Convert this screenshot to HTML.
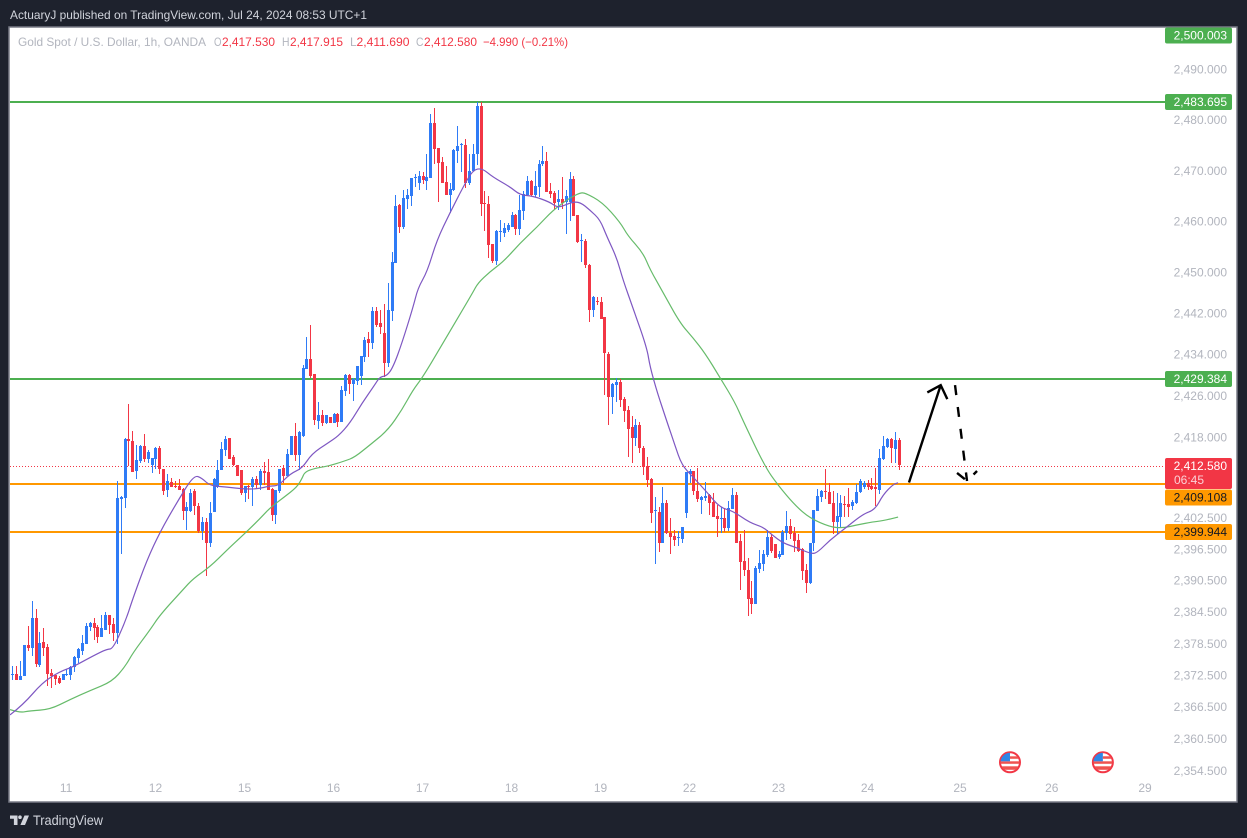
<!DOCTYPE html>
<html lang="en">
<head>
<meta charset="utf-8">
<title>Gold Spot / U.S. Dollar, 1h, OANDA</title>
<style>
html,body{margin:0;padding:0;background:#1e222d;width:1247px;height:838px;overflow:hidden}
svg{display:block}
text{font-family:"Liberation Sans",sans-serif;font-size:12px}
.tick{fill:#b2b5be;text-anchor:end}
.day{fill:#b2b5be;text-anchor:middle}
</style>
</head>
<body>
<svg id="chart" width="1247" height="838" viewBox="0 0 1247 838" xmlns="http://www.w3.org/2000/svg">
  <defs>
    <clipPath id="plot-clip"><rect x="10" y="28" width="1226" height="774"/></clipPath>
    <clipPath id="flag-clip"><circle cx="0" cy="0" r="9.5"/></clipPath>
  </defs>
  <text x="10" y="19" fill="#d1d4dc" textLength="357" lengthAdjust="spacingAndGlyphs">ActuaryJ published on TradingView.com, Jul 24, 2024 08:53 UTC+1</text>
  <rect x="9" y="27" width="1228" height="775" fill="#ffffff" stroke="#787b86" stroke-width="1.5"/>

  <g id="level-lines" clip-path="url(#plot-clip)"></g>
  <g id="candles" shape-rendering="crispEdges"></g>
  <g id="averages" clip-path="url(#plot-clip)"></g>
  <g id="arrows"></g>

  <g>
    <text x="18" y="46" fill="#b2b5be" textLength="188" lengthAdjust="spacingAndGlyphs">Gold Spot / U.S. Dollar, 1h, OANDA</text>
    <text x="214" y="46" fill="#b2b5be" textLength="7.5" lengthAdjust="spacingAndGlyphs">O</text>
    <text x="222" y="46" fill="#f23645" textLength="53" lengthAdjust="spacingAndGlyphs">2,417.530</text>
    <text x="282" y="46" fill="#b2b5be" textLength="7.5" lengthAdjust="spacingAndGlyphs">H</text>
    <text x="290" y="46" fill="#f23645" textLength="53" lengthAdjust="spacingAndGlyphs">2,417.915</text>
    <text x="350" y="46" fill="#b2b5be">L</text>
    <text x="356.5" y="46" fill="#f23645" textLength="53" lengthAdjust="spacingAndGlyphs">2,411.690</text>
    <text x="416" y="46" fill="#b2b5be" textLength="7.5" lengthAdjust="spacingAndGlyphs">C</text>
    <text x="424" y="46" fill="#f23645" textLength="53" lengthAdjust="spacingAndGlyphs">2,412.580</text>
    <text x="483" y="46" fill="#f23645" textLength="85" lengthAdjust="spacingAndGlyphs">−4.990 (−0.21%)</text>
  </g>

  <g id="price-axis"></g>
  <g id="price-tags"></g>
  <g id="time-axis"></g>
  <g id="events"></g>

  <g>
    <path d="M10 815.5h7.5v9.5h-3.6v-6.2H10z" fill="#d1d4dc"/>
    <circle cx="20" cy="817.2" r="1.8" fill="#d1d4dc"/>
    <path d="M24.5 815.5h4.5l-4 9.5h-4.6z" fill="#d1d4dc"/>
    <text x="33" y="825" fill="#d1d4dc" style="font-size:14px" textLength="70" lengthAdjust="spacingAndGlyphs">TradingView</text>
  </g>
</svg>

<script>
// ---- candle values (one entry per hourly bar)
const opens = [
2372.6,2372.7,2371.6,2372.2,2378.2,2377.5,2383.2,2374.4,2378.8,2377.7,
2372.9,2372.5,2371.8,2371.6,2372.6,2372.5,2373.9,2375.6,2377.1,2378.4,
2381.6,2382.4,2381.6,2379.7,2381.1,2383.9,2382.2,2380.5,2406.0,2406.3,
2417.7,2417.3,2411.5,2413.5,2416.3,2413.8,2412.7,2413.8,2416.0,2411.9,
2407.9,2409.4,2408.6,2408.6,2408.1,2403.8,2403.8,2407.7,2404.8,2400.0,
2401.7,2397.7,2403.5,2408.3,2411.6,2415.6,2417.9,2414.2,2412.7,2411.7,
2407.3,2408.6,2408.3,2410.0,2408.8,2411.5,2411.3,2408.1,2403.1,2407.7,
2412.1,2410.6,2414.6,2418.3,2414.6,2418.2,2431.2,2433.2,2430.2,2421.1,
2422.3,2420.7,2421.9,2420.8,2422.5,2420.9,2426.9,2430.0,2428.3,2428.9,
2429.9,2433.6,2437.1,2436.3,2442.5,2440.2,2438.2,2432.4,2442.6,2451.9,
2463.3,2459.0,2464.5,2465.1,2468.6,2467.6,2469.0,2468.0,2468.6,2479.5,
2474.6,2471.8,2467.8,2465.3,2466.3,2474.0,2475.1,2475.2,2467.6,2470.0,
2473.4,2482.9,2463.7,2463.5,2455.7,2452.3,2458.1,2457.8,2458.4,2459.0,
2461.4,2458.6,2462.1,2465.3,2468.0,2465.3,2466.9,2471.4,2472.0,2466.1,
2465.7,2463.9,2464.5,2463.9,2463.9,2468.5,2461.4,2456.2,2456.3,2451.5,
2442.7,2444.5,2444.3,2441.4,2434.1,2425.8,2428.1,2428.7,2425.4,2423.3,
2420.0,2417.9,2420.4,2415.9,2412.4,2409.9,2403.7,2403.6,2397.6,2405.3,
2399.6,2399.0,2398.5,2398.4,2403.4,2410.9,2411.5,2407.6,2405.9,2406.3,
2406.9,2405.5,2402.8,2402.3,2402.4,2400.5,2404.1,2406.9,2398.0,2394.2,
2392.5,2387.1,2386.0,2392.7,2393.6,2395.3,2398.8,2397.4,2395.0,2395.3,
2399.6,2400.9,2399.6,2398.2,2396.5,2392.5,2390.0,2397.6,2403.8,2406.5,
2407.6,2407.4,2405.3,2401.7,2402.6,2405.2,2405.1,2404.7,2405.3,2407.4,
2408.4,2409.1,2408.6,2408.3,2407.8,2413.8,2416.1,2417.7,2415.7,2417.53];
const highs = [
2374.1,2374.1,2375.2,2378.2,2381.7,2386.6,2385.0,2380.6,2381.3,2378.4,
2373.5,2372.5,2372.2,2372.7,2373.5,2374.2,2376.1,2377.6,2380.1,2382.3,
2382.6,2383.2,2382.0,2383.9,2384.4,2383.9,2383.3,2409.6,2406.6,2417.8,
2424.4,2419.2,2416.5,2416.5,2418.7,2415.6,2414.0,2416.2,2416.3,2411.9,
2410.9,2410.1,2409.6,2410.0,2408.2,2405.6,2408.1,2408.1,2405.3,2402.6,
2402.4,2405.6,2410.1,2413.6,2417.0,2418.3,2417.9,2414.6,2412.7,2411.7,
2408.6,2408.8,2410.3,2410.6,2411.9,2413.3,2413.8,2408.2,2407.9,2411.9,
2412.7,2415.7,2418.3,2420.7,2419.2,2432.0,2437.4,2439.8,2430.2,2424.8,
2423.2,2422.3,2422.0,2422.7,2422.7,2427.9,2430.2,2430.2,2429.5,2431.8,
2433.7,2437.4,2438.4,2443.4,2443.4,2442.7,2443.9,2448.0,2454.0,2465.3,
2463.5,2466.3,2466.5,2468.6,2469.5,2470.0,2469.8,2473.4,2481.3,2482.5,
2474.6,2472.8,2471.0,2467.6,2474.4,2478.9,2475.6,2476.4,2473.4,2475.4,
2483.6,2483.7,2466.1,2465.1,2455.7,2458.4,2460.4,2459.8,2459.8,2462.0,
2461.6,2465.3,2466.1,2469.0,2468.2,2470.0,2472.2,2475.0,2473.8,2467.6,
2466.1,2466.3,2468.8,2466.3,2469.8,2469.0,2461.4,2457.6,2456.7,2451.7,
2445.4,2445.3,2445.3,2441.4,2434.5,2428.5,2429.5,2429.3,2425.8,2424.0,
2422.1,2421.5,2421.0,2416.3,2414.2,2410.1,2406.5,2404.6,2408.4,2405.9,
2402.4,2400.1,2400.0,2400.7,2411.3,2411.9,2411.5,2412.0,2406.6,2409.3,
2407.1,2407.3,2404.9,2404.6,2404.3,2405.7,2408.2,2407.5,2399.4,2400.1,
2394.8,2390.4,2393.2,2396.3,2396.3,2400.1,2399.4,2397.4,2396.1,2400.1,
2403.8,2402.2,2400.7,2399.4,2396.7,2393.6,2397.6,2403.9,2408.0,2407.8,
2411.9,2409.1,2407.6,2407.3,2406.9,2406.7,2408.2,2405.9,2408.9,2409.9,
2409.5,2409.7,2410.1,2412.0,2415.7,2418.2,2417.9,2417.9,2419.0,2417.915];
const lows = [
2371.5,2371.5,2371.6,2372.2,2377.1,2376.1,2373.9,2374.0,2376.0,2370.3,
2370.0,2370.6,2370.8,2371.5,2372.2,2371.5,2373.0,2374.7,2376.3,2378.4,
2380.9,2379.2,2378.5,2379.7,2381.1,2380.3,2379.0,2378.4,2395.5,2404.3,
2412.4,2411.3,2410.0,2413.0,2413.3,2413.0,2411.1,2411.8,2410.9,2406.9,
2406.5,2408.4,2408.2,2407.9,2402.1,2400.2,2403.5,2403.1,2399.6,2398.2,
2391.3,2396.8,2403.5,2408.2,2411.6,2414.4,2413.8,2412.4,2410.6,2406.9,
2405.6,2406.1,2404.8,2408.2,2407.9,2408.8,2407.9,2401.9,2401.3,2407.2,
2409.1,2410.6,2414.6,2413.5,2411.7,2418.0,2431.2,2429.5,2420.3,2419.5,
2420.1,2420.5,2420.7,2420.7,2420.0,2420.9,2426.0,2426.3,2425.0,2428.1,
2428.1,2432.6,2433.6,2435.2,2439.5,2438.1,2429.7,2431.6,2440.6,2451.9,
2457.8,2458.6,2462.5,2463.1,2466.9,2466.3,2467.4,2466.3,2468.6,2471.5,
2463.9,2467.6,2465.3,2461.8,2466.1,2471.6,2469.8,2466.7,2467.2,2470.0,
2471.2,2461.1,2458.2,2452.9,2451.9,2451.5,2456.1,2457.0,2458.0,2459.0,
2457.4,2457.4,2460.4,2465.1,2465.0,2464.9,2464.9,2471.0,2465.9,2464.7,
2462.5,2462.3,2462.5,2457.6,2460.2,2461.1,2455.9,2452.1,2450.9,2440.4,
2441.4,2443.7,2441.0,2426.2,2420.4,2422.5,2424.8,2423.9,2421.0,2414.2,
2413.0,2416.3,2415.0,2410.7,2408.4,2401.5,2393.6,2395.9,2397.6,2399.4,
2395.5,2397.1,2397.1,2397.6,2402.4,2409.1,2406.9,2405.5,2403.2,2405.7,
2403.0,2402.6,2398.8,2399.6,2399.8,2400.0,2404.1,2397.6,2388.7,2391.3,
2383.7,2384.1,2386.0,2391.9,2392.3,2395.0,2395.7,2394.8,2394.6,2395.3,
2398.2,2398.4,2395.9,2395.9,2390.6,2388.1,2389.8,2396.1,2403.8,2405.5,
2406.1,2405.1,2399.4,2399.4,2400.7,2402.6,2402.6,2403.9,2405.1,2407.3,
2408.0,2407.8,2407.8,2404.7,2407.1,2413.6,2416.0,2413.0,2413.0,2411.69];
const closes = [
2372.7,2371.6,2372.3,2378.2,2377.5,2383.2,2374.6,2378.6,2377.5,2372.7,
2372.2,2371.7,2371.0,2372.7,2372.7,2374.0,2375.8,2377.3,2378.6,2381.8,
2382.4,2381.4,2379.6,2381.3,2383.9,2382.0,2380.5,2406.3,2406.5,2417.7,
2417.2,2411.3,2413.6,2416.3,2413.8,2415.2,2414.0,2416.0,2411.8,2407.7,
2409.6,2408.4,2408.4,2407.9,2403.8,2404.6,2407.3,2404.8,2400.0,2401.7,
2397.7,2403.4,2410.0,2411.7,2415.8,2417.7,2413.8,2412.7,2410.6,2407.3,
2408.6,2408.3,2410.0,2408.8,2411.5,2411.1,2407.9,2403.1,2407.8,2411.9,
2410.6,2414.8,2418.3,2414.6,2419.0,2431.4,2433.2,2429.9,2421.3,2422.3,
2420.7,2422.3,2420.8,2422.5,2420.9,2427.1,2430.0,2428.3,2429.3,2431.8,
2433.7,2436.9,2436.3,2442.5,2439.8,2439.4,2432.4,2442.7,2452.1,2463.1,
2459.0,2464.7,2465.3,2468.6,2468.8,2469.0,2468.2,2468.8,2479.5,2474.4,
2471.6,2467.6,2465.3,2466.5,2474.2,2475.0,2475.3,2467.6,2470.0,2473.4,
2482.9,2463.5,2463.5,2455.5,2452.3,2458.2,2458.3,2458.8,2459.4,2461.4,
2458.6,2462.3,2465.5,2468.0,2465.3,2467.1,2471.4,2472.0,2465.9,2465.5,
2463.7,2464.5,2463.7,2465.1,2468.5,2461.1,2456.1,2456.4,2451.5,2442.7,
2445.3,2444.3,2441.0,2434.3,2425.8,2428.3,2428.7,2425.2,2423.1,2419.6,
2417.9,2420.4,2415.9,2412.2,2409.7,2403.4,2403.9,2397.6,2405.3,2399.6,
2398.8,2398.2,2398.7,2400.7,2411.3,2411.5,2407.6,2406.1,2406.5,2406.7,
2405.3,2402.6,2402.2,2402.5,2400.5,2404.3,2406.9,2397.6,2394.0,2392.5,
2386.9,2386.0,2392.9,2393.8,2395.5,2398.8,2396.1,2394.8,2395.5,2399.8,
2400.9,2399.4,2398.0,2396.1,2392.3,2390.0,2397.6,2403.9,2406.7,2407.6,
2407.4,2405.1,2401.7,2402.8,2405.3,2405.0,2404.5,2405.5,2407.4,2409.5,
2409.1,2408.3,2408.0,2408.1,2414.0,2416.3,2417.7,2415.9,2417.5,2412.58];

// ---- fast moving average: bar position and value at each reading
const fastBars = [-0.6,2.8,7.7,12.3,15.7,20.9,24.5,26,29.1,31.2,34.8,38.2,42.6,46.9,49,51.1,55.5,59.6,63.2,66.6,68.7,71.7,74.9,77.4,81.6,84.2,87.3,90.4,93.7,95,96.8,98.4,100.7,103.5,104.8,107.2,109.7,113.1,116.5,119,121.4,124.2,128.6,131.2,134.5,138.9,140.7,142.3,144.6,146.7,149.3,151.9,153.7,156.2,157.8,160.4,164,164.8,166.6,169.2,171.2,173,175.9,179.5,182.9,186.2,190.6,194,196.3,199.2,202.8,206.6,208.2,211.3,214.6,219.8,222.9,225,227.6,228.9];
const fastValues = [2364.9,2366.8,2371,2373.1,2374,2376.1,2377.4,2377.4,2382.4,2387.1,2394.4,2399.8,2405.5,2410.7,2410.1,2408.6,2408.4,2408,2408,2408.6,2408.6,2410.9,2412,2414.8,2416.9,2418.2,2420.8,2424.6,2428.2,2429.7,2429.9,2431.6,2436.3,2443.1,2447,2450.2,2456.4,2461.8,2466.9,2470.2,2470.6,2468.8,2466.9,2465.3,2465.1,2463.9,2462.9,2463.1,2463.9,2463.9,2462.3,2460.4,2457,2452.9,2448.6,2443.1,2435.3,2431.6,2426.8,2420.9,2416.5,2412.6,2410.3,2407.4,2404.4,2403.8,2401.5,2400.7,2399.2,2397.6,2396.7,2395.5,2395.9,2398.2,2400.1,2403.2,2404,2406.9,2408.9,2409.2];

// ---- slow moving average: bar position and value at each reading
const slowBars = [-0.6,2,4.6,9.7,14.9,20.1,25.8,29.1,31.2,35.6,38.2,44.1,46.7,51.1,55.5,58.8,63.2,66.6,70,73.6,74.9,75.6,78.2,81.6,85.9,88.6,92.4,97.1,100.7,103.5,106.1,111.3,119,120.3,123.4,126.8,131.2,135.6,139.7,144,146.7,148,152.4,157,159.1,163,164.8,168.2,172.5,175.9,179,182.9,186.7,188.8,194.5,197.8,202.2,206.1,211.3,214.6,218.3,222.4,225,228.9];
const slowValues = [2365.9,2365.3,2365.7,2365.9,2367.8,2369.5,2371.2,2374,2376.7,2381.05,2383.9,2388.7,2390.8,2393.1,2396.3,2398.6,2401.7,2404.4,2406.3,2408.4,2410.1,2411.3,2412,2412.4,2413.4,2414.2,2416.5,2419.4,2423.3,2427.1,2429.7,2436.3,2446.1,2448,2450.2,2452.1,2455.8,2459,2462.3,2464.7,2465.7,2465.7,2463.9,2460,2457.2,2453.9,2450.6,2446.1,2440.2,2437.3,2434.3,2429.5,2424.8,2421.2,2412.3,2408.8,2404.9,2402.4,2400.7,2400.5,2401.1,2401.7,2401.9,2402.6];

// ---- horizontal levels and labels
const resistanceLevels = [2483.695, 2429.384];
const supportLevels = [2409.108, 2399.944];
const lastPrice = 2412.58;
const priceTicks = [2490,2480,2470,2460,2450,2442,2434,2426,2418,2402.5,2396.5,2390.5,2384.5,2378.5,2372.5,2366.5,2360.5,2354.5];
const dayLabels = ['11','12','15','16','17','18','19','22','23','24','25','26','29'];
const dayBars = [13.9,37,60,83,106,129,152,175,198,221,244.9,268.6,292.7];
const eventBars = [257.8,281.8];
const eventPrices = [2356.2,2356.2];
const riseBars = [231.7, 239.9];
const risePrices = [2409.4, 2428.2];
const fallBars = [243.6, 246.7];
const fallPrices = [2428.2, 2409.7];

// ---- axis functions (log price scale; series readings use a slightly tighter calibration)
const X = function (bar) { return 12.3 + 3.87 * bar; };
const Y = function (price) { return 102 + 12530 * Math.log(2483.695 / price); };
const seriesY = function (price) { return 102 + 12505 * Math.log(2483.695 / price); };
const NS = 'http://www.w3.org/2000/svg';
const fmt = function (v) {
  const s = v.toFixed(3).split('.');
  return s[0].replace(/\B(?=(\d{3})+$)/g, ',') + '.' + s[1];
};
const make = function (parent, tag, attrs) {
  const el = document.createElementNS(NS, tag);
  for (const k in attrs) el.setAttribute(k, attrs[k]);
  parent.appendChild(el);
  return el;
};

// ---- horizontal levels
const levelGroup = document.getElementById('level-lines');
resistanceLevels.forEach(function (p) {
  const el = make(levelGroup, 'line', {x1: 10, x2: 1166, y1: Math.round(Y(p)), y2: Math.round(Y(p)), stroke: '#4caf50', 'stroke-width': 2});
  
  
});
supportLevels.forEach(function (p) {
  const el = make(levelGroup, 'line', {x1: 10, x2: 1166, y1: Math.round(Y(p)), y2: Math.round(Y(p)), stroke: '#ff9800', 'stroke-width': 2});
  
  
});
const lastLine = make(levelGroup, 'line', {x1: 10, x2: 1166, y1: Math.round(Y(lastPrice)) + 0.5, y2: Math.round(Y(lastPrice)) + 0.5, stroke: '#f23645', 'stroke-width': 1, 'stroke-dasharray': '1 2'});



// ---- candles
const candleGroup = document.getElementById('candles');
opens.forEach(function (o, i) {
  const c = closes[i];
  const color = c >= o ? '#2f7bf6' : '#f23645';
  const cx = Math.round(X(i));
  const g = make(candleGroup, 'g', {fill: color});
  
  
  const top = Math.round(seriesY(Math.max(o, c)));
  const bottom = Math.round(seriesY(Math.min(o, c)));
  const hy = Math.round(seriesY(highs[i]));
  const ly = Math.round(seriesY(lows[i]));
  make(g, 'rect', {x: cx, y: hy, width: 1, height: Math.max(1, ly - hy)});
  make(g, 'rect', {x: cx - 1, y: top, width: 3, height: Math.max(1, bottom - top)});
});

// ---- moving averages (smoothed through the midpoints between readings)
const avgGroup = document.getElementById('averages');
const linePath = function (bars, values) {
  const pts = bars.map(function (b, i) { return [X(b), seriesY(values[i])]; });
  let d = 'M' + pts[0][0].toFixed(1) + ' ' + pts[0][1].toFixed(1);
  for (let i = 1; i < pts.length - 1; i++) {
    const mx = (pts[i][0] + pts[i + 1][0]) / 2;
    const my = (pts[i][1] + pts[i + 1][1]) / 2;
    d += 'Q' + pts[i][0].toFixed(1) + ' ' + pts[i][1].toFixed(1) + ' ' + mx.toFixed(1) + ' ' + my.toFixed(1);
  }
  const end = pts[pts.length - 1];
  return d + 'L' + end[0].toFixed(1) + ' ' + end[1].toFixed(1);
};
const slowLine = make(avgGroup, 'path', {d: linePath(slowBars, slowValues), fill: 'none', stroke: '#66bb6a', 'stroke-width': 1.2, 'stroke-linejoin': 'round'});


const fastLine = make(avgGroup, 'path', {d: linePath(fastBars, fastValues), fill: 'none', stroke: '#7e57c2', 'stroke-width': 1.2, 'stroke-linejoin': 'round'});



// ---- projection arrows
const arrowGroup = document.getElementById('arrows');
const rise = make(arrowGroup, 'path', {
  d: 'M' + X(riseBars[0]) + ' ' + Y(risePrices[0]) + 'L' + X(riseBars[1]) + ' ' + Y(risePrices[1]) +
     'M' + (X(riseBars[1]) - 13.4) + ' ' + (Y(risePrices[1]) + 7.3) + 'L' + X(riseBars[1]) + ' ' + Y(risePrices[1]) + 'L' + (X(riseBars[1]) + 6.6) + ' ' + (Y(risePrices[1]) + 14),
  fill: 'none', stroke: '#000000', 'stroke-width': 2.4
});


const fall = make(arrowGroup, 'path', {
  d: 'M' + X(fallBars[0]) + ' ' + Y(fallPrices[0]) + 'L' + X(fallBars[1]) + ' ' + Y(fallPrices[1]) +
     'M' + (X(fallBars[1]) - 10) + ' ' + (Y(fallPrices[1]) - 8) + 'L' + X(fallBars[1]) + ' ' + Y(fallPrices[1]) + 'L' + (X(fallBars[1]) + 10) + ' ' + (Y(fallPrices[1]) - 10),
  fill: 'none', stroke: '#000000', 'stroke-width': 2.4, 'stroke-dasharray': '10 12'
});



// ---- price axis ticks
const axisGroup = document.getElementById('price-axis');
priceTicks.forEach(function (p) {
  const t = make(axisGroup, 'text', {x: 1227, y: Y(p) + 3.5, class: 'tick'});
  t.textContent = fmt(p);
  
  
});

// ---- price tags
const tagGroup = document.getElementById('price-tags');
const tagPrices = [2500.003, 2483.695, 2429.384, 2409.108, 2399.944];
const tagFills = ['#4caf50', '#4caf50', '#4caf50', '#ff9800', '#ff9800'];
const tagInks = ['#ffffff', '#ffffff', '#ffffff', '#131722', '#131722'];
const tagMinCentre = 35.5;
const tagOffsets = [0, 0, 0, 13.5, 0];
tagPrices.forEach(function (p, i) {
  const cy = Math.max(tagMinCentre, Math.round(Y(p)) + tagOffsets[i]);
  const g = make(tagGroup, 'g', {});
  
  
  make(g, 'rect', {x: 1165, y: cy - 8, width: 67, height: 16, rx: 2, fill: tagFills[i]});
  const t = make(g, 'text', {x: 1227, y: cy + 4, 'text-anchor': 'end', fill: tagInks[i]});
  t.textContent = fmt(p);
});
const lastTag = make(tagGroup, 'g', {});


const lastY = Math.round(Y(lastPrice));
make(lastTag, 'rect', {x: 1165, y: lastY - 8, width: 67, height: 31, rx: 2, fill: '#f23645'});
const lastText = make(lastTag, 'text', {x: 1227, y: lastY + 4, 'text-anchor': 'end', fill: '#ffffff'});
lastText.textContent = fmt(lastPrice);
const countdown = make(lastTag, 'text', {x: 1174, y: lastY + 18, fill: '#fbd0d5'});
countdown.textContent = '06:45';

// ---- time axis
const timeGroup = document.getElementById('time-axis');
dayLabels.forEach(function (d, i) {
  const t = make(timeGroup, 'text', {x: X(dayBars[i]), y: 792, class: 'day'});
  t.textContent = d;
  
  
});

// ---- economic event flags
const eventGroup = document.getElementById('events');
eventBars.forEach(function (b, i) {
  const g = make(eventGroup, 'g', {transform: 'translate(' + X(b) + ',' + Y(eventPrices[i]) + ')'});
  
  
  make(g, 'circle', {cx: 0, cy: 0, r: 10, fill: '#ffffff', stroke: '#f23645', 'stroke-width': 2});
  const inner = make(g, 'g', {'clip-path': 'url(#flag-clip)'});
  make(inner, 'rect', {x: -10, y: -1, width: 20, height: 2.5, fill: '#ef5350'});
  make(inner, 'rect', {x: -10, y: 4, width: 20, height: 3.5, fill: '#ef5350'});
  make(inner, 'rect', {x: -10, y: -10, width: 10, height: 9, fill: '#2f86e6'});
  make(inner, 'rect', {x: 0, y: -6, width: 10, height: 2.5, fill: '#ef5350'});
});
</script>
</body>
</html>
